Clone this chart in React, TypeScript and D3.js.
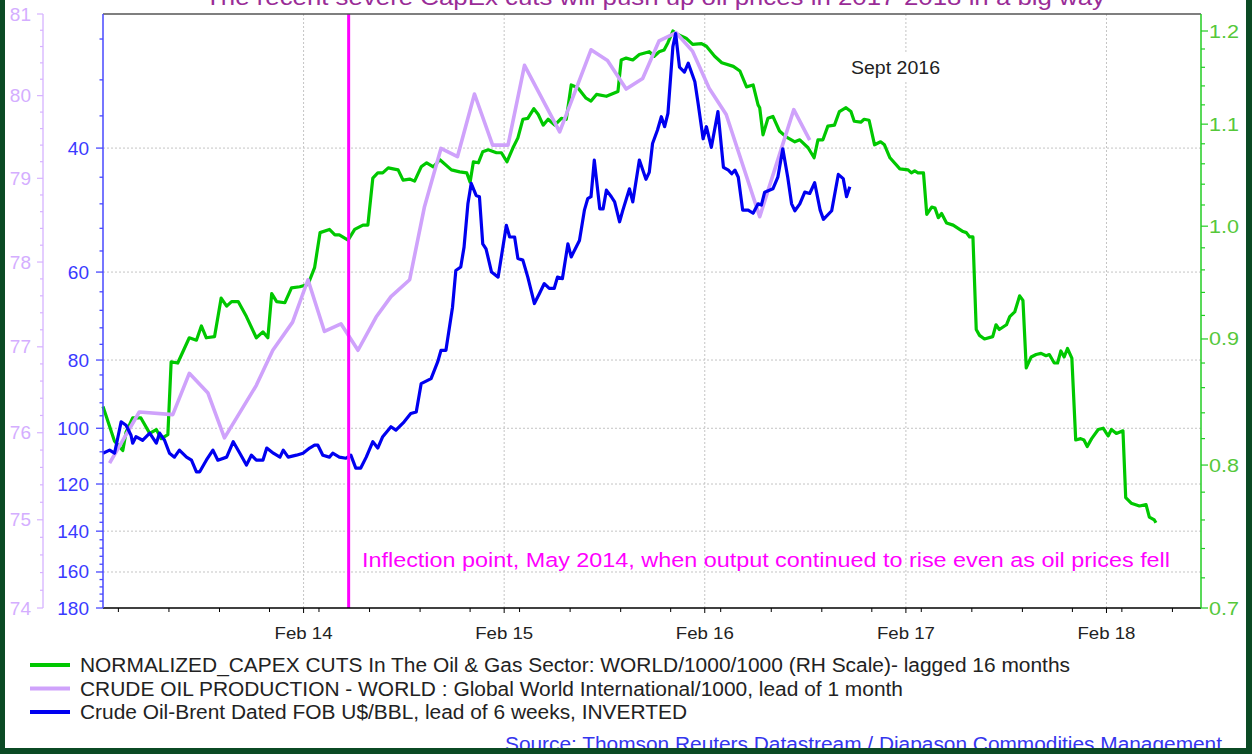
import React from 'react';
import * as d3 from 'd3';

// NORMALIZED_CAPEX (RH scale, lagged 16 months)
const capex: [string, number][] = [
  ["2013-02-01",0.845],["2013-02-22",0.818],["2013-03-09",0.811],["2013-03-15",0.825],["2013-03-27",0.836],
  ["2013-04-11",0.836],["2013-04-27",0.824],["2013-05-09",0.827],["2013-05-18",0.820],["2013-05-30",0.823],
  ["2013-06-05",0.881],["2013-06-17",0.880],["2013-07-08",0.901],["2013-07-21",0.899],["2013-07-30",0.911],
  ["2013-08-08",0.901],["2013-08-23",0.902],["2013-09-04",0.935],["2013-09-14",0.928],["2013-09-23",0.932],
  ["2013-10-05",0.932],["2013-10-20",0.919],["2013-11-07",0.901],["2013-11-19",0.906],["2013-11-28",0.901],
  ["2013-12-05",0.939],["2013-12-14",0.932],["2013-12-29",0.931],["2014-01-10",0.944],["2014-01-25",0.945],
  ["2014-02-09",0.947],["2014-02-21",0.962],["2014-03-03",0.994],["2014-03-20",0.997],["2014-03-30",0.992],
  ["2014-04-07",0.992],["2014-04-23",0.987],["2014-05-05",0.997],["2014-05-20",1.001],["2014-05-29",1.001],
  ["2014-06-07",1.046],["2014-06-16",1.051],["2014-06-25",1.051],["2014-07-05",1.056],["2014-07-23",1.054],
  ["2014-08-01",1.044],["2014-08-13",1.045],["2014-08-22",1.043],["2014-09-03",1.057],["2014-09-13",1.061],
  ["2014-09-25",1.057],["2014-10-07",1.064],["2014-10-28",1.054],["2014-11-12",1.052],["2014-11-25",1.051],
  ["2014-12-01",1.042],["2014-12-07",1.062],["2014-12-16",1.061],["2014-12-24",1.072],["2015-01-03",1.074],
  ["2015-01-18",1.071],["2015-01-27",1.071],["2015-02-06",1.062],["2015-02-17",1.076],["2015-02-26",1.086],
  ["2015-03-07",1.105],["2015-03-16",1.106],["2015-03-27",1.116],["2015-04-04",1.110],["2015-04-13",1.099],
  ["2015-04-22",1.105],["2015-05-04",1.099],["2015-05-16",1.106],["2015-05-25",1.105],["2015-06-03",1.141],
  ["2015-06-15",1.138],["2015-06-30",1.127],["2015-07-09",1.124],["2015-07-19",1.131],["2015-08-06",1.129],
  ["2015-08-27",1.134],["2015-09-02",1.168],["2015-09-11",1.170],["2015-09-23",1.168],["2015-10-05",1.174],
  ["2015-10-23",1.177],["2015-11-01",1.172],["2015-11-10",1.177],["2015-11-19",1.179],["2015-11-26",1.187],
  ["2015-12-05",1.200],["2015-12-14",1.196],["2015-12-29",1.192],["2016-01-10",1.185],["2016-01-26",1.186],
  ["2016-02-04",1.183],["2016-02-19",1.172],["2016-03-03",1.165],["2016-03-24",1.161],["2016-04-05",1.156],
  ["2016-04-17",1.139],["2016-04-29",1.141],["2016-05-08",1.120],["2016-05-11",1.117],["2016-05-17",1.089],
  ["2016-05-26",1.106],["2016-06-04",1.108],["2016-06-16",1.093],["2016-06-28",1.087],["2016-07-14",1.082],
  ["2016-07-23",1.084],["2016-08-07",1.076],["2016-08-18",1.066],["2016-08-25",1.084],["2016-09-03",1.084],
  ["2016-09-12",1.098],["2016-09-24",1.099],["2016-10-03",1.113],["2016-10-15",1.117],["2016-10-24",1.113],
  ["2016-10-30",1.103],["2016-11-11",1.102],["2016-11-17",1.105],["2016-11-26",1.104],["2016-12-06",1.079],
  ["2016-12-17",1.082],["2016-12-24",1.079],["2017-01-03",1.066],["2017-01-21",1.055],["2017-02-05",1.054],
  ["2017-02-11",1.051],["2017-02-17",1.053],["2017-02-23",1.051],["2017-03-05",1.051],["2017-03-11",1.011],
  ["2017-03-20",1.018],["2017-03-26",1.017],["2017-04-01",1.008],["2017-04-07",1.012],["2017-04-16",1.003],
  ["2017-04-28",1.001],["2017-05-16",0.995],["2017-05-22",0.994],["2017-05-28",0.990],["2017-06-03",0.990],
  ["2017-06-09",0.908],["2017-06-15",0.903],["2017-06-24",0.900],["2017-07-09",0.902],["2017-07-15",0.912],
  ["2017-07-21",0.908],["2017-08-03",0.912],["2017-08-09",0.919],["2017-08-18",0.923],["2017-08-27",0.937],
  ["2017-09-02",0.933],["2017-09-08",0.876],["2017-09-17",0.885],["2017-09-26",0.887],["2017-10-05",0.888],
  ["2017-10-14",0.886],["2017-10-20",0.887],["2017-10-29",0.880],["2017-11-04",0.880],["2017-11-10",0.890],
  ["2017-11-16",0.885],["2017-11-22",0.892],["2017-11-30",0.884],["2017-12-07",0.819],["2017-12-16",0.820],
  ["2017-12-22",0.819],["2017-12-28",0.814],["2018-01-05",0.820],["2018-01-17",0.827],["2018-01-26",0.828],
  ["2018-02-04",0.822],["2018-02-10",0.827],["2018-02-19",0.824],["2018-03-03",0.826],["2018-03-08",0.776],
  ["2018-03-18",0.772],["2018-04-02",0.770],["2018-04-14",0.771],["2018-04-20",0.762],["2018-04-29",0.760],
  ["2018-05-02",0.758]
];

// CRUDE OIL PRODUCTION - WORLD /1000, lead of 1 month
const production: [string, number][] = [
  ["2013-02-13",75.65],["2013-04-08",76.24],["2013-06-08",76.21],["2013-07-08",76.69],["2013-08-11",76.46],
  ["2013-09-10",75.94],["2013-11-07",76.55],["2013-12-07",76.96],["2014-01-12",77.29],["2014-02-09",77.79],
  ["2014-03-11",77.18],["2014-04-10",77.27],["2014-05-11",76.96],["2014-06-13",77.35],["2014-07-10",77.59],
  ["2014-08-13",77.79],["2014-09-09",78.66],["2014-10-09",79.36],["2014-11-08",79.26],["2014-12-09",80.02],
  ["2015-01-11",79.40],["2015-02-08",79.40],["2015-03-10",80.37],["2015-05-13",79.56],["2015-07-09",80.56],
  ["2015-08-08",80.43],["2015-09-11",80.08],["2015-10-11",80.21],["2015-11-10",80.67],["2015-12-11",80.77],
  ["2016-01-10",80.54],["2016-02-09",80.09],["2016-03-11",79.77],["2016-05-11",78.54],["2016-07-12",79.83],
  ["2016-08-10",79.46]
];

// Brent Dated FOB US$/BBL, lead of 6 weeks (plotted inverted)
const brent: [string, number][] = [
  ["2013-02-01",108.5],["2013-02-13",107.4],["2013-02-22",108.5],["2013-03-06",97.9],["2013-03-15",99.0],
  ["2013-03-24",102.3],["2013-03-27",105.0],["2013-04-02",102.8],["2013-04-14",104.0],["2013-04-27",101.6],
  ["2013-05-09",105.0],["2013-05-15",101.6],["2013-05-24",104.0],["2013-06-02",108.5],["2013-06-11",109.9],
  ["2013-06-20",107.4],["2013-07-03",109.9],["2013-07-12",111.0],["2013-07-21",115.3],["2013-07-27",115.3],
  ["2013-08-08",111.0],["2013-08-20",107.4],["2013-08-29",111.0],["2013-09-14",109.9],["2013-09-26",104.5],
  ["2013-10-08",108.5],["2013-10-20",112.8],["2013-10-29",109.2],["2013-11-07",111.0],["2013-11-19",111.0],
  ["2013-11-26",106.7],["2013-12-08",108.5],["2013-12-20",109.9],["2013-12-26",107.4],["2014-01-04",109.9],
  ["2014-01-19",109.2],["2014-01-31",108.5],["2014-02-12",106.7],["2014-02-21",105.7],["2014-02-27",105.7],
  ["2014-03-08",109.2],["2014-03-20",109.9],["2014-03-26",108.5],["2014-04-07",109.9],["2014-04-19",110.3],
  ["2014-04-28",109.2],["2014-05-07",113.9],["2014-05-16",113.9],["2014-05-26",109.9],["2014-06-07",104.5],
  ["2014-06-16",106.7],["2014-06-25",102.8],["2014-07-10",99.5],["2014-07-19",100.6],["2014-08-03",97.9],
  ["2014-08-15",95.3],["2014-08-25",94.8],["2014-09-03",86.4],["2014-09-21",85.0],["2014-10-03",80.5],
  ["2014-10-09",77.5],["2014-10-18",77.5],["2014-10-30",67.3],["2014-11-05",59.7],["2014-11-14",59.0],
  ["2014-11-20",55.3],["2014-11-27",48.0],["2014-12-03",44.9],["2014-12-12",46.7],["2014-12-18",46.9],
  ["2014-12-24",54.7],["2014-12-30",55.6],["2015-01-09",60.0],["2015-01-21",61.0],["2015-02-05",51.5],
  ["2015-02-11",53.5],["2015-02-20",53.5],["2015-02-26",57.4],["2015-03-07",57.7],["2015-03-16",61.0],
  ["2015-03-28",66.5],["2015-04-06",64.4],["2015-04-15",62.3],["2015-04-24",63.3],["2015-05-03",63.3],
  ["2015-05-09",61.0],["2015-05-18",61.3],["2015-05-28",54.7],["2015-06-03",57.1],["2015-06-18",54.1],
  ["2015-06-27",49.0],["2015-07-03",47.2],["2015-07-09",46.9],["2015-07-15",41.6],["2015-07-25",48.8],
  ["2015-07-31",48.8],["2015-08-06",45.9],["2015-08-15",46.9],["2015-08-21",47.7],["2015-08-30",50.9],
  ["2015-09-05",49.0],["2015-09-17",45.7],["2015-09-23",47.7],["2015-10-05",41.6],["2015-10-17",44.3],
  ["2015-10-23",43.3],["2015-10-29",39.4],["2015-11-07",37.7],["2015-11-14",36.1],["2015-11-20",37.3],
  ["2015-11-26",35.7],["2015-12-05",28.7],["2015-12-10",27.5],["2015-12-17",30.7],["2015-12-26",31.2],
  ["2016-01-02",30.3],["2016-01-14",32.2],["2016-01-20",34.6],["2016-01-29",38.8],["2016-02-04",37.3],
  ["2016-02-13",39.9],["2016-02-25",35.5],["2016-03-06",42.6],["2016-03-15",43.0],["2016-03-21",43.5],
  ["2016-03-27",43.0],["2016-04-02",44.0],["2016-04-10",49.0],["2016-04-20",49.0],["2016-04-29",49.5],
  ["2016-05-08",48.0],["2016-05-14",48.2],["2016-05-20",46.2],["2016-06-04",45.7],["2016-06-13",44.0],
  ["2016-06-22",40.1],["2016-07-01",44.0],["2016-07-08",48.0],["2016-07-14",49.1],["2016-07-23",48.0],
  ["2016-08-01",46.2],["2016-08-10",46.4],["2016-08-19",44.8],["2016-08-29",49.0],["2016-09-04",50.5],
  ["2016-09-19",49.1],["2016-10-01",43.6],["2016-10-10",44.2],["2016-10-16",46.9],["2016-10-22",45.4]
];

const brentTicks = [40, 60, 80, 100, 120, 140, 160, 180];
const productionTicks = [74, 75, 76, 77, 78, 79, 80, 81];
const capexTicks = [0.7, 0.8, 0.9, 1.0, 1.1, 1.2];
const yearTicks = ["2014-02-01", "2015-02-01", "2016-02-01", "2017-02-01", "2018-02-01"];
const inflectionDate = "2014-04-24";

const title = "The recent severe CapEx cuts will push up oil prices in 2017-2018 in a big way";
const annotation = "Inflection point, May 2014, when output continued to rise even as oil prices fell";
const source = "Source: Thomson Reuters Datastream / Diapason Commodities Management";
const legendLabels = [
  "NORMALIZED_CAPEX CUTS In The Oil & Gas Sector: WORLD/1000/1000 (RH Scale)- lagged 16 months",
  "CRUDE OIL PRODUCTION - WORLD : Global World International/1000, lead of 1 month",
  "Crude Oil-Brent Dated FOB U$/BBL, lead of 6 weeks, INVERTED",
];
const legendColors = ["#00c800", "#cfa2fb", "#0000f0"];
// the source chart's text is rendered a little wider than Arial
const legendWidths = [990, 823, 607];

const W = 1252, H = 754;
const L = 103, R = 1201, T = 14, B = 608;
const font = "Arial, 'Liberation Sans', sans-serif";

const parse = d3.timeParse("%Y-%m-%d");

export default function App() {
  const x = d3.scaleTime()
    .domain([parse("2013-02-01") as Date, parse("2018-07-23") as Date])
    .range([L, R]);
  const yBrent = d3.scaleLog().domain([25.8, 180]).range([T, B]);
  const yProd = d3.scaleLog().domain([74, 81]).range([B, T]);
  const yCapex = d3.scaleLog().domain([0.7, 1.2]).range([B, 31]);

  const lineOf = (y: d3.ScaleLogarithmic<number, number>) =>
    d3.line<[string, number]>()
      .x(d => x(parse(d[0]) as Date))
      .y(d => y(d[1]));

  const brentMinor = d3.range(28, 180, 4).filter(v => !brentTicks.includes(v));
  const prodMinor = d3.range(74, 81.01, 0.2).filter(v => Math.abs(v - Math.round(v)) > 0.01);
  const capexMinor = d3.range(0.7, 1.211, 0.02).filter(v => Math.abs(v * 10 - Math.round(v * 10)) > 0.01);
  const quarterTicks = d3.timeMonths(parse("2013-03-01") as Date, parse("2018-07-23") as Date, 3);
  const xInf = x(parse(inflectionDate) as Date);

  return (
    <svg width={W} height={H} style={{ position: 'absolute', left: 0, top: 0, background: '#fff' }} fontFamily={font}>
      <rect x={0} y={0} width={W} height={H} fill="#fff" />
      {/* title, cut off at the top as in the source image */}
      <text x={205} y={5} fontSize={22} fill="#9a2c97" textLength={900} lengthAdjust="spacingAndGlyphs">{title}</text>

      {/* gridlines */}
      {brentTicks.slice(0, -1).map(v => (
        <line key={'hg' + v} x1={L} x2={R} y1={yBrent(v)} y2={yBrent(v)} stroke="#c4c4c4" strokeDasharray="2,2" />
      ))}
      {yearTicks.map(d => (
        <line key={'vg' + d} x1={x(parse(d) as Date)} x2={x(parse(d) as Date)} y1={T} y2={B} stroke="#c4c4c4" strokeDasharray="2,2" />
      ))}

      {/* series */}
      <path d={lineOf(yCapex)(capex) || ''} fill="none" stroke="#00c800" strokeWidth={3.2} strokeLinejoin="round" />
      <path d={lineOf(yProd)(production) || ''} fill="none" stroke="#cfa2fb" strokeWidth={3.6} strokeLinejoin="round" />
      <path d={lineOf(yBrent)(brent) || ''} fill="none" stroke="#0000f0" strokeWidth={3.2} strokeLinejoin="round" />

      {/* inflection line */}
      <line x1={xInf} x2={xInf} y1={T} y2={B} stroke="#ff00ff" strokeWidth={3} />
      <text x={362} y={567} fontSize={20.5} fill="#ff00ff" textLength={808} lengthAdjust="spacingAndGlyphs">{annotation}</text>

      <rect x={843} y={52} width={105} height={30} fill="#fff" />
      <text x={851} y={74} fontSize={17.5} fill="#222" textLength={89} lengthAdjust="spacingAndGlyphs">Sept 2016</text>

      {/* frame */}
      <line x1={L} x2={R} y1={T} y2={T} stroke="#555" strokeWidth={1.5} />
      <line x1={L} x2={R} y1={B} y2={B} stroke="#000" strokeWidth={1.5} />

      {/* x axis */}
      {quarterTicks.map(d => (
        <line key={'qt' + d.getTime()} x1={x(d)} x2={x(d)} y1={B} y2={B + 4} stroke="#000" />
      ))}
      {yearTicks.map(d => (
        <g key={'xt' + d}>
          <line x1={x(parse(d) as Date)} x2={x(parse(d) as Date)} y1={B} y2={B + 5} stroke="#000" />
          <text x={x(parse(d) as Date) - 29} y={639} fontSize={17} fill="#222" textLength={58} lengthAdjust="spacingAndGlyphs">
            {d3.timeFormat("Feb %y")(parse(d) as Date)}
          </text>
        </g>
      ))}

      {/* left blue axis */}
      <line x1={L} x2={L} y1={T} y2={B} stroke="#4848ff" strokeWidth={1.5} />
      {brentMinor.map(v => (
        <line key={'bm' + v} x1={L - 3.5} x2={L} y1={yBrent(v)} y2={yBrent(v)} stroke="#4848ff" strokeWidth={1.3} />
      ))}
      {brentTicks.map(v => (
        <g key={'bt' + v}>
          <line x1={L - 7} x2={L} y1={yBrent(v)} y2={yBrent(v)} stroke="#4848ff" strokeWidth={1.3} />
          <text x={89} y={yBrent(v) + 6.5} textAnchor="end" fontSize={19} fill="#3a3aff">{v}</text>
        </g>
      ))}

      {/* left purple axis */}
      <line x1={43} x2={43} y1={T} y2={B} stroke="#d6b2ff" strokeWidth={1.3} />
      {prodMinor.map(v => (
        <line key={'pm' + v.toFixed(1)} x1={40} x2={43} y1={yProd(v)} y2={yProd(v)} stroke="#d6b2ff" strokeWidth={1.2} />
      ))}
      {productionTicks.map(v => (
        <g key={'pt' + v}>
          <line x1={37} x2={43} y1={yProd(v)} y2={yProd(v)} stroke="#d6b2ff" strokeWidth={1.2} />
          <text x={31} y={yProd(v) + 6.5} textAnchor="end" fontSize={19} fill="#d4aeff">{v}</text>
        </g>
      ))}

      {/* right green axis */}
      <line x1={R} x2={R} y1={T} y2={B} stroke="#22cc22" strokeWidth={1.5} />
      {capexMinor.map(v => (
        <line key={'cm' + v.toFixed(2)} x1={R} x2={R + 4} y1={yCapex(v)} y2={yCapex(v)} stroke="#22cc22" strokeWidth={1.2} />
      ))}
      {capexTicks.map(v => (
        <g key={'ct' + v}>
          <line x1={R} x2={R + 7} y1={yCapex(v)} y2={yCapex(v)} stroke="#22cc22" strokeWidth={1.2} />
          <text x={R + 8} y={yCapex(v) + 6.5} fontSize={19} fill="#55c83a" textLength={30} lengthAdjust="spacingAndGlyphs">{v.toFixed(1)}</text>
        </g>
      ))}

      {/* legend */}
      {legendLabels.map((label, i) => (
        <g key={label} transform={`translate(0,${665 + i * 23.5})`}>
          <line x1={30} x2={70} y1={0} y2={0} stroke={legendColors[i]} strokeWidth={4} />
          <text x={80} y={7} fontSize={19.5} fill="#222" textLength={legendWidths[i]} lengthAdjust="spacingAndGlyphs">{label}</text>
        </g>
      ))}

      <text x={505} y={751} fontSize={19.5} fill="#3535ee" textDecoration="underline" textLength={717} lengthAdjust="spacingAndGlyphs">
        {source}
      </text>

      {/* outer dark green border */}
      <rect x={0} y={0} width={5} height={H} fill="#0b4a24" />
      <rect x={W - 6} y={0} width={6} height={H} fill="#0b4a24" />
      <rect x={0} y={H - 6} width={W} height={6} fill="#0b4a24" />
    </svg>
  );
}
